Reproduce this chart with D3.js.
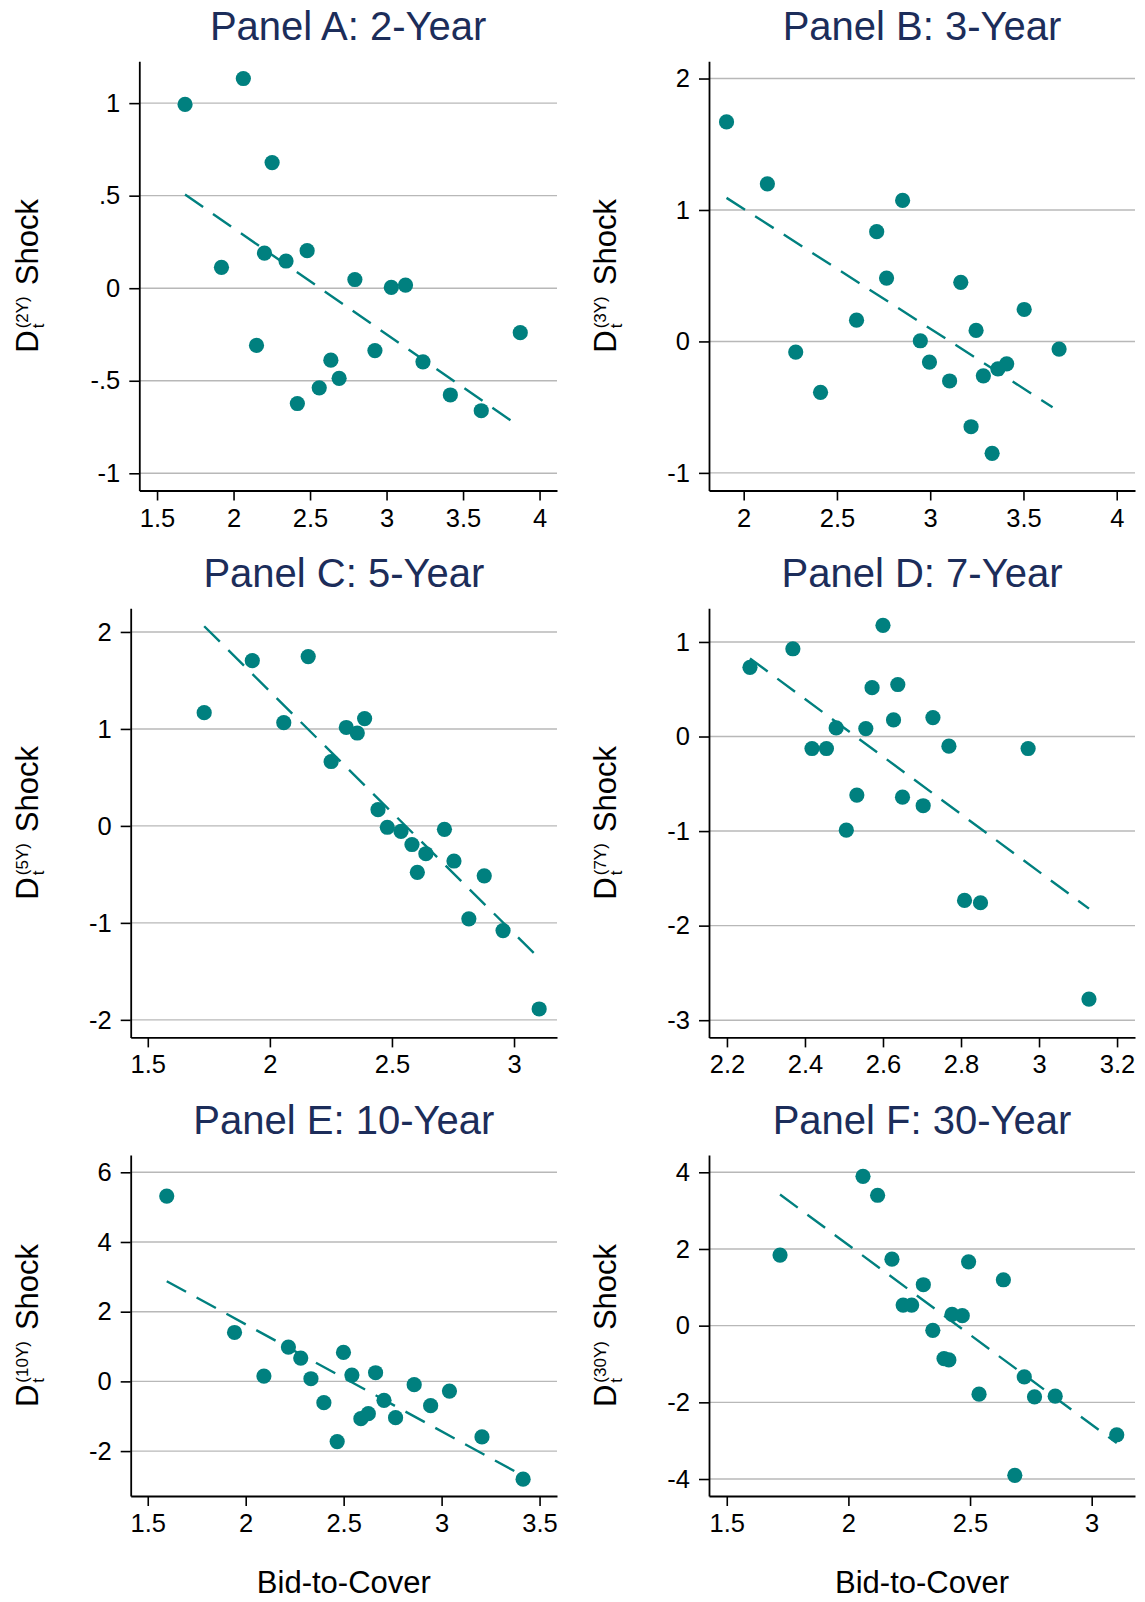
<!DOCTYPE html>
<html>
<head>
<meta charset="utf-8">
<script src="https://cdn.jsdelivr.net/npm/d3@7"></script>
<style>
  body { margin: 0; background: #fff; }
  text { font-family: "Liberation Sans", Arial, Helvetica, sans-serif; }
</style>
</head>
<body>
<div id="chart"></div>
<script>
// panel titles and maturity tags
var titles = ["Panel A: 2-Year", "Panel B: 3-Year", "Panel C: 5-Year",
              "Panel D: 7-Year", "Panel E: 10-Year", "Panel F: 30-Year"];
var maturities = ["2Y", "3Y", "5Y", "7Y", "10Y", "30Y"];
var xTitle = "Bid-to-Cover";

// Panel A: 2-year
var bidA = [1.683, 2.064, 2.252, 1.921, 2.202, 2.343, 2.481, 2.150, 2.793, 3.031,
            3.124, 3.874, 2.636, 2.924, 3.238, 2.560, 2.690, 2.417, 3.417, 3.619];
var shockA = [0.993, 1.133, 0.679, 0.113, 0.190, 0.147, 0.203, -0.309, 0.047, 0.004,
              0.017, -0.240, -0.389, -0.337, -0.398, -0.538, -0.487, -0.623, -0.577, -0.662];
var fitA = [[1.683, 0.506], [3.874, -0.750]];
var xTicksA = [1.5, 2, 2.5, 3, 3.5, 4];
var yTicksA = [-1, -0.5, 0, 0.5, 1];
var xRangeA = [1.384, 4.114];
var yRangeA = [-1.093, 1.226];

// Panel B: 3-year
var bidB = [1.908, 2.127, 2.852, 2.713, 2.766, 3.164, 3.504, 2.605, 3.246, 2.947,
            2.279, 3.691, 2.996, 3.410, 3.363, 3.285, 3.104, 2.412, 3.219, 3.332];
var shockB = [1.670, 1.199, 1.073, 0.835, 0.482, 0.450, 0.243, 0.162, 0.084, 0.005,
              -0.081, -0.058, -0.157, -0.170, -0.209, -0.262, -0.301, -0.387, -0.649, -0.851];
var fitB = [[1.908, 1.092], [3.656, -0.500]];
var xTicksB = [2, 2.5, 3, 3.5, 4];
var yTicksB = [-1, 0, 1, 2];
var xRangeB = [1.814, 4.098];
var yRangeB = [-1.134, 2.131];

// Panel C: 5-year
var bidC = [1.731, 1.928, 2.157, 2.057, 2.313, 2.358, 2.388, 2.251, 2.443, 2.481,
            2.537, 2.582, 2.639, 2.715, 2.604, 2.754, 2.878, 2.815, 2.955, 3.103];
var shockC = [1.168, 1.704, 1.746, 1.065, 1.015, 0.958, 1.107, 0.664, 0.167, -0.014,
              -0.057, -0.192, -0.287, -0.035, -0.479, -0.362, -0.515, -0.958, -1.079, -1.888];
var fitC = [[1.731, 2.059], [3.103, -1.366]];
var xTicksC = [1.5, 2, 2.5, 3];
var yTicksC = [-2, -1, 0, 1, 2];
var xRangeC = [1.430, 3.176];
var yRangeC = [-2.181, 2.245];

// Panel D: 7-year
var bidD = [2.259, 2.369, 2.600, 2.572, 2.638, 2.627, 2.728, 2.480, 2.556, 2.418,
            2.455, 2.769, 2.972, 2.533, 2.650, 2.703, 2.506, 2.809, 2.850, 3.128];
var shockD = [0.732, 0.928, 1.176, 0.517, 0.550, 0.175, 0.200, 0.091, 0.084, -0.127,
              -0.127, -0.102, -0.127, -0.619, -0.641, -0.732, -0.990, -1.733, -1.758, -2.777];
var fitD = [[2.259, 0.826], [3.128, -1.820]];
var xTicksD = [2.2, 2.4, 2.6, 2.8, 3, 3.2];
var yTicksD = [-3, -2, -1, 0, 1];
var xRangeD = [2.154, 3.246];
var yRangeD = [-3.182, 1.357];

// Panel E: 10-year
var bidE = [1.597, 1.943, 2.093, 2.218, 2.281, 2.333, 2.499, 2.542, 2.663, 2.399,
            2.706, 2.588, 2.626, 2.765, 2.467, 2.860, 2.944, 3.040, 3.206, 3.416];
var shockE = [5.317, 1.403, 0.153, 0.983, 0.668, 0.076, 0.831, 0.181, 0.248, -0.611,
              -0.544, -1.069, -0.926, -1.041, -1.728, -0.095, -0.697, -0.277, -1.594, -2.807];
var fitE = [[1.597, 2.874], [3.416, -2.711]];
var xTicksE = [1.5, 2, 2.5, 3, 3.5];
var yTicksE = [-2, 0, 2, 4, 6];
var xRangeE = [1.413, 3.589];
var yRangeE = [-3.289, 6.496];

// Panel F: 30-year
var bidF = [1.719, 2.060, 2.120, 2.179, 2.494, 2.637, 2.308, 2.225, 2.260, 2.426,
            2.468, 2.347, 2.393, 2.413, 2.537, 2.723, 2.765, 2.850, 3.103, 2.684];
var shockF = [1.840, 3.896, 3.401, 1.735, 1.666, 1.197, 1.067, 0.538, 0.538, 0.295,
              0.260, -0.121, -0.859, -0.894, -1.788, -1.336, -1.857, -1.839, -2.846, -3.905];
var fitF = [[1.719, 3.419], [3.103, -3.063]];
var xTicksF = [1.5, 2, 2.5, 3];
var yTicksF = [-4, -2, 0, 2, 4];
var xRangeF = [1.427, 3.178];
var yRangeF = [-4.443, 4.451];

var teal = "#00807f",
    navy = "#1c2d5a",
    gridColor = "#b8b8b8";

// where each plot region sits on the page
var boxes = [
  {left: 139.3, right: 557, top: 61.3, bottom: 490.5, titleY: 40, labelX: 38},
  {left: 709, right: 1135, top: 61.3, bottom: 490.5, titleY: 40, labelX: 616},
  {left: 130.7, right: 557, top: 608.2, bottom: 1037.4, titleY: 587, labelX: 38},
  {left: 709, right: 1135, top: 608.2, bottom: 1037.4, titleY: 587, labelX: 616},
  {left: 130.7, right: 557, top: 1155, bottom: 1496, titleY: 1134, labelX: 38},
  {left: 709, right: 1135, top: 1155, bottom: 1496, titleY: 1134, labelX: 616}
];

var panels = [
  {x: bidA, y: shockA, fit: fitA, xt: xTicksA, yt: yTicksA, xr: xRangeA, yr: yRangeA},
  {x: bidB, y: shockB, fit: fitB, xt: xTicksB, yt: yTicksB, xr: xRangeB, yr: yRangeB},
  {x: bidC, y: shockC, fit: fitC, xt: xTicksC, yt: yTicksC, xr: xRangeC, yr: yRangeC},
  {x: bidD, y: shockD, fit: fitD, xt: xTicksD, yt: yTicksD, xr: xRangeD, yr: yRangeD},
  {x: bidE, y: shockE, fit: fitE, xt: xTicksE, yt: yTicksE, xr: xRangeE, yr: yRangeE},
  {x: bidF, y: shockF, fit: fitF, xt: xTicksF, yt: yTicksF, xr: xRangeF, yr: yRangeF}
];

// Stata style labels: .5 and -.5
function fmt(d) { return String(d).replace(/^(-?)0\./, "$1."); }

var svg = d3.select("#chart")
  .append("svg")
    .attr("width", 1145)
    .attr("height", 1602);

panels.forEach(function(p, i) {
  var b = boxes[i];
  var g = svg.append("g");

  var x = d3.scaleLinear().domain(p.xr).range([b.left, b.right]);
  var y = d3.scaleLinear().domain(p.yr).range([b.bottom, b.top]);

  // title
  g.append("text")
    .attr("x", (b.left + b.right) / 2)
    .attr("y", b.titleY)
    .attr("text-anchor", "middle")
    .style("font-size", "40px")
    .style("fill", navy)
    .text(titles[i]);

  // gridlines
  g.append("g")
    .selectAll("line")
    .data(p.yt)
    .enter()
    .append("line")
      .attr("x1", b.left)
      .attr("x2", b.right)
      .attr("y1", function(d) { return y(d); })
      .attr("y2", function(d) { return y(d); })
      .style("stroke", gridColor)
      .style("stroke-width", 1.4);

  // axes
  var yAxisG = g.append("g")
    .attr("transform", "translate(" + b.left + ",0)")
    .call(d3.axisLeft(y).tickValues(p.yt).tickFormat(fmt).tickSize(10).tickSizeOuter(0).tickPadding(9));
  var xAxisG = g.append("g")
    .attr("transform", "translate(0," + b.bottom + ")")
    .call(d3.axisBottom(x).tickValues(p.xt).tickFormat(fmt).tickSize(10).tickSizeOuter(0).tickPadding(8));

  [yAxisG, xAxisG].forEach(function(a) {
    a.select(".domain").style("stroke", "#000").style("stroke-width", 1.8);
    a.selectAll(".tick line").style("stroke", "#000").style("stroke-width", 1.6);
    a.selectAll(".tick text")
      .style("font-size", "25.5px")
      .style("fill", "#000")
      .style("font-family", '"Liberation Sans", Arial, sans-serif');
  });

  // points
  g.append("g")
    .selectAll("circle")
    .data(p.x)
    .enter()
    .append("circle")
      .attr("cx", function(d) { return x(d); })
      .attr("cy", function(d, j) { return y(p.y[j]); })
      .attr("r", 7.6)
      .style("fill", teal);

  // fitted line
  g.append("path")
    .datum(p.fit)
    .attr("d", d3.line()
      .x(function(d) { return x(d[0]); })
      .y(function(d) { return y(d[1]); }))
    .style("fill", "none")
    .style("stroke", teal)
    .style("stroke-width", 2.4)
    .style("stroke-dasharray", "22,12");

  // y label: D_t^(nY) Shock, rotated
  var lab = g.append("g");
  var tD = lab.append("text").attr("x", 0).attr("y", 0)
    .style("font-size", "31px").text("D");
  var wD = tD.node().getComputedTextLength();
  lab.append("text").attr("x", wD + 2).attr("y", 6)
    .style("font-size", "17px").text("t");
  var tSup = lab.append("text").attr("x", wD + 2).attr("y", -10)
    .style("font-size", "17px").text("(" + maturities[i] + ")");
  var wSup = tSup.node().getComputedTextLength();
  var tS = lab.append("text").attr("x", wD + 2 + wSup + 11).attr("y", 0)
    .style("font-size", "31px").text("Shock");
  var total = wD + 2 + wSup + 11 + tS.node().getComputedTextLength();
  lab.attr("transform", "translate(" + b.labelX + "," + ((b.top + b.bottom) / 2 + total / 2) + ") rotate(-90)");

  // x title on bottom row only
  if (i >= 4) {
    g.append("text")
      .attr("x", (b.left + b.right) / 2)
      .attr("y", 1593)
      .attr("text-anchor", "middle")
      .style("font-size", "31px")
      .style("fill", "#000")
      .text(xTitle);
  }
});
</script>
</body>
</html>
